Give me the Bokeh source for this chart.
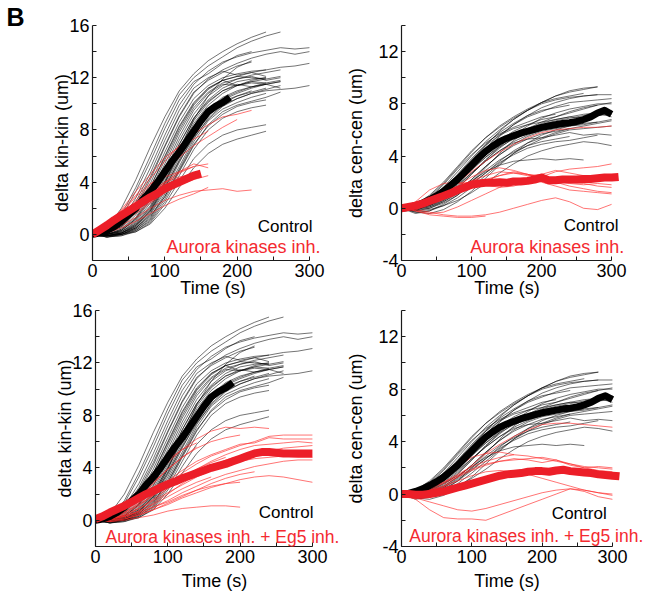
from bokeh.plotting import figure
from bokeh.layouts import column, row
from bokeh.models import Range1d, FixedTicker, Label, Title
from bokeh.embed import file_html
from bokeh.resources import INLINE

# ---------------- time vectors (s) ----------------
T20 = [0, 20, 40, 60, 80, 100, 120, 140, 160, 180, 200, 220, 240, 260, 280, 300, 320]
T10 = [0, 10, 20, 30, 40, 50, 60, 70, 80, 90, 100, 110, 120, 130, 140, 150, 160,
       170, 180, 190, 200, 210, 220, 230, 240, 250, 260, 270, 280, 290, 300, 310]

X_TICKS = [0, 100, 200, 300]
X_MINOR = [50, 150, 250]
KIN_TICKS = [0, 4, 8, 12, 16]
KIN_MINOR = [-2, 2, 6, 10, 14]
CEN_TICKS = [-4, 0, 4, 8, 12]
CEN_MINOR = [-2, 2, 6, 10, 14]
CEN_TICK_TEXT = {-4: "-4"}

# ---------------- delta kin-kin (um), control traces (sampled every 20 s) ----------------
kin_control = [
    [0, 0.5, 2.0, 4.2, 6.7, 9.0, 11.0, 12.3, 13.3, 14.0, 14.6, 15.1, 15.5],
    [0, 0.3, 1.5, 3.6, 6.0, 8.5, 10.7, 12.0, 12.9, 13.6, 14.3, 14.8, 15.2, 15.5],
    [0, 0.3, 1.3, 3.3, 5.6, 8.1, 10.3, 11.7, 12.3, 13.1, 13.7, 14.0],
    [0, 0.2, 1.0, 2.8, 5.1, 7.6, 9.9, 11.5, 12.5, 13.2, 13.6, 13.9, 14.1, 14.3, 14.2, 14.3],
    [0, 0.2, 0.9, 2.5, 4.7, 7.2, 9.5, 11.2, 12.0, 12.5, 12.2, 12.4, 12.1],
    [0, 0.1, 0.7, 2.1, 4.2, 6.7, 9.0, 10.8, 11.9, 12.6, 13.1, 13.5, 13.8, 14.0, 13.8, 14.0],
    [0, 0.1, 0.6, 1.9, 3.9, 6.3, 8.6, 10.4, 11.4, 12.0, 12.3, 12.5, 12.6, 12.8, 12.9, 13.1],
    [0, 0.1, 0.5, 1.7, 3.6, 6.0, 8.3, 10.1, 11.2, 11.8, 12.1, 12.0, 11.9, 12.1],
    [0, 0.0, 0.4, 1.5, 3.3, 5.7, 8.0, 9.9, 11.1, 11.8, 12.1, 12.4, 12.6],
    [0, 0.0, 0.4, 1.3, 3.1, 5.4, 7.8, 9.7, 10.9, 11.6, 11.9, 12.1, 11.8, 12.0],
    [0, 0.0, 0.3, 1.2, 2.9, 5.1, 7.5, 9.5, 10.8, 11.5, 11.4, 11.7, 11.9],
    [0, 0.0, 0.3, 1.1, 2.6, 4.8, 7.2, 9.2, 10.6, 11.4, 11.9, 12.2, 12.4, 12.6],
    [0, 0.0, 0.2, 1.0, 2.4, 4.5, 6.9, 8.9, 10.3, 11.2, 11.7, 11.9, 12.0],
    [0, 0.0, 0.2, 0.9, 2.2, 4.3, 6.6, 8.7, 10.1, 11.0, 11.5, 11.3, 11.5, 11.2],
    [0, -0.1, 0.1, 0.8, 2.0, 4.1, 6.4, 8.5, 9.9, 10.8, 11.4, 11.8, 12.0],
    [0, -0.1, 0.1, 0.7, 1.9, 3.9, 6.1, 8.2, 9.6, 10.4, 10.9, 11.3, 11.6],
    [0, -0.1, 0.1, 0.6, 1.7, 3.7, 5.9, 8.0, 9.5, 10.3, 10.8, 11.2, 11.5, 11.7],
    [0, -0.1, 0.0, 0.5, 1.6, 3.5, 5.7, 7.8, 9.3, 10.2, 10.6, 11.0],
    [0, -0.2, 0.0, 0.5, 1.5, 3.3, 5.5, 7.6, 9.1, 10.0, 10.6, 10.9, 11.2],
    [0, -0.2, 0.0, 0.4, 1.3, 3.1, 5.2, 7.3, 8.9, 9.9, 10.4, 10.8, 11.1, 11.4],
    [0, -0.1, 0.0, 0.4, 1.2, 2.9, 5.0, 7.1, 8.7, 9.6, 10.1, 10.5, 10.8],
    [0, -0.1, 0.0, 0.3, 1.1, 2.7, 4.8, 6.8, 8.4, 9.4, 9.9, 10.2, 10.5, 10.9],
    [0, -0.2, -0.1, 0.3, 1.0, 2.5, 4.5, 6.5, 8.0, 8.9, 9.4, 9.7, 9.9],
    [0, -0.1, 0.0, 0.2, 0.9, 2.3, 4.1, 5.8, 6.9, 7.6, 8.0, 8.2, 8.4],
    [0, -0.2, -0.1, 0.2, 0.8, 2.0, 3.6, 5.1, 6.2, 6.9, 7.3, 7.6, 7.9],
    [0, 0.0, 0.1, 0.6, 1.8, 3.9, 6.4, 8.8, 10.6, 11.9, 12.8, 13.3],
    [0, -0.1, 0.1, 0.7, 1.8, 3.6, 5.6, 7.4, 8.8, 9.8, 10.4, 10.8, 11.0, 11.1, 11.2, 11.4],
    [0, 0.1, 0.6, 1.8, 3.6, 5.9, 8.2, 10.0, 11.2, 11.8, 11.4, 11.6, 11.5],
    [0, 0.0, 0.3, 1.2, 2.7, 4.6, 6.9, 8.9, 10.2, 11.0, 11.4, 11.7, 11.6, 11.8],
    [0, -0.1, 0.1, 0.5, 1.4, 2.9, 4.9, 6.9, 8.3, 9.2, 9.8, 10.1, 10.3],
    [0, 0.1, 0.8, 2.3, 4.4, 6.8, 9.1, 10.9, 11.8, 12.4, 12.9, 13.2],
    [0, 0.0, 0.2, 0.8, 2.1, 4.0, 6.2, 8.2, 9.6, 10.5, 11.0, 11.3, 11.5, 11.7],
]

# Aurora kinases inh. (kin-kin)
kin_aurora = [
    [0, 0.8, 1.8, 3.0, 4.3, 5.6, 6.8, 7.7, 8.4, 9.0, 9.2, 9.5],
    [0, 0.6, 1.5, 2.6, 3.8, 4.9, 5.9, 6.8, 7.5, 8.2, 8.8],
    [0, 0.5, 1.2, 2.1, 3.1, 4.0, 4.8, 5.4, 5.1],
    [0, 0.3, 0.9, 1.6, 2.4, 3.2, 3.8, 4.2, 4.5],
    [0, 0.4, 1.3, 2.3, 3.3, 4.0, 4.4, 4.6],
    [0, 0.2, 0.7, 1.3, 2.0, 2.6, 3.0, 3.3, 3.4, 3.5, 3.3, 3.4],
    [0, 0.1, 0.5, 1.0, 1.6, 2.2, 2.7, 3.1, 3.6],
    [0, 0.5, 1.6, 2.9, 3.9, 4.4, 4.8, 5.2],
    [0, 0.7, 1.9, 3.3, 4.6, 5.9, 6.7, 7.3, 7.9],
    [0, 0.3, 1.0, 1.9, 3.0, 3.9, 4.7, 5.2, 5.4],
]

# Aurora kinases inh. + Eg5 inh. (kin-kin)
kin_aurora_eg5 = [
    [0, 0.3, 1.0, 2.0, 3.2, 4.4, 5.4, 6.2, 6.8, 7.1, 7.0, 7.1, 7.0],
    [0, 0.2, 0.8, 1.7, 2.8, 3.9, 4.8, 5.5, 6.0, 6.3, 6.5],
    [0, 0.4, 1.2, 2.3, 3.5, 4.6, 5.4, 5.9],
    [0, 0.1, 0.5, 1.1, 1.9, 2.8, 3.6, 4.3, 4.9, 5.3, 5.7, 6.0, 6.4, 6.5, 6.5, 6.5],
    [0, 0.2, 0.6, 1.3, 2.1, 3.0, 3.8, 4.5, 5.0, 5.4, 5.8, 5.9, 6.3, 6.2, 6.2, 6.2],
    [0, 0.1, 0.4, 0.9, 1.6, 2.4, 3.2, 3.9, 4.5, 5.0, 5.4, 5.7, 5.8, 5.9, 6.0, 5.9],
    [0, 0.0, 0.3, 0.7, 1.3, 2.0, 2.8, 3.5, 4.1, 4.6, 4.9, 5.2, 5.3, 5.5, 5.6, 5.7],
    [0, 0.1, 0.4, 0.9, 1.5, 2.1, 2.7, 3.3, 3.8, 4.2, 4.5, 4.7, 4.8, 4.9, 4.8, 4.8],
    [0, 0.0, 0.2, 0.5, 1.0, 1.5, 2.1, 2.6, 3.1, 3.5, 3.8, 4.1, 4.3, 4.5, 4.6, 4.6],
    [0, 0.0, 0.1, 0.4, 0.8, 1.2, 1.7, 2.1, 2.5, 2.8, 3.1, 3.3, 3.4, 3.3, 3.1, 2.9],
    [0, 0.1, 0.3, 0.6, 1.0, 1.4, 1.9, 2.3, 2.6, 2.8, 2.9],
    [0, -0.1, 0.0, 0.2, 0.4, 0.7, 0.9, 1.0, 1.1, 1.1, 1.0],
    [0, 0.2, 0.6, 1.2, 1.9, 2.6, 3.3, 3.9, 4.4, 4.8],
    [0, 0.1, 0.3, 0.7, 1.2, 1.8, 2.4, 2.9, 3.3],
    [0, -0.1, 0.1, 0.4, 0.8, 1.3, 1.8, 2.3, 2.8, 3.2, 3.5, 3.7],
    [0, 0.3, 0.9, 1.8, 2.9, 3.9, 4.8, 5.6],
]

# mean curves (sampled every 10 s)
kin_control_mean = [0, 0.1, 0.3, 0.6, 1.0, 1.5, 2.0, 2.7, 3.3, 4.0, 4.8, 5.6, 6.3, 7.1,
                    7.9, 8.7, 9.4, 9.8, 10.1, 10.5]
kin_aurora_mean = [0, 0.35, 0.7, 1.1, 1.45, 1.8, 2.15, 2.5, 2.85, 3.15, 3.5, 3.75, 4.0,
                   4.25, 4.5, 4.65]
kin_aurora_eg5_mean = [0.1, 0.3, 0.6, 0.85, 1.1, 1.4, 1.7, 2.0, 2.25, 2.5, 2.75, 2.95, 3.2,
                       3.4, 3.6, 3.8, 4.0, 4.15, 4.3, 4.5, 4.7, 4.9, 5.1, 5.2, 5.2, 5.15,
                       5.1, 5.1, 5.1, 5.1, 5.1]

# ---------------- delta cen-cen (um) ----------------
cen_control = [
    [0, 0.1, 0.5, 1.3, 2.4, 3.6, 4.8, 5.9, 6.8, 7.5, 8.1, 8.6, 9.0, 9.2, 9.3],
    [0, 0.2, 0.7, 1.6, 2.8, 4.0, 5.1, 6.0, 6.8, 7.5, 8.1, 8.6, 8.9, 9.1, 9.3],
    [0, -0.2, 0.3, 1.0, 2.0, 3.2, 4.4, 5.5, 6.4, 7.1, 7.7, 8.1, 8.4, 8.6, 8.7, 8.7],
    [0, 0.0, 0.4, 1.2, 2.3, 3.5, 4.6, 5.6, 6.4, 7.0, 7.4, 7.8, 8.1, 8.2, 8.3, 8.4],
    [0, 0.1, 0.2, 0.7, 1.5, 2.6, 3.7, 4.7, 5.6, 6.3, 6.9, 7.3, 7.6, 7.8, 8.0, 8.0],
    [0, -0.3, -0.2, 0.3, 1.0, 2.0, 3.1, 4.2, 5.2, 5.9, 6.4, 6.7, 6.9, 7.1, 7.3, 7.0],
    [0, 0.2, 0.6, 1.4, 2.5, 3.7, 4.8, 5.6, 6.1, 6.4, 6.6, 6.8, 7.0, 6.9, 7.1, 7.2],
    [0, -0.1, 0.1, 0.6, 1.3, 2.2, 3.2, 4.1, 4.9, 5.5, 5.9, 6.1, 6.3, 6.4, 6.6, 6.8],
    [0, -0.4, -0.2, 0.2, 0.8, 1.6, 2.5, 3.4, 4.2, 4.8, 5.3, 5.7, 6.0, 6.1, 6.2, 6.3],
    [0, 0.0, 0.3, 0.9, 1.7, 2.7, 3.6, 4.4, 5.0, 5.3, 5.4, 5.6, 5.8, 5.6, 5.7, 5.6],
    [0, -0.2, -0.1, 0.2, 0.6, 1.2, 1.9, 2.7, 3.4, 4.0, 4.4, 4.7, 4.9, 5.1, 5.0, 4.8],
    [0, 0.1, 0.3, 0.8, 1.4, 2.1, 2.8, 3.3, 3.6, 3.7, 3.8, 3.7, 3.8, 3.7],
    [0, 0.3, 0.9, 1.9, 3.1, 4.3, 5.4, 6.3, 7.0, 7.6, 8.1, 8.4, 8.6, 8.8],
    [0, 0.1, 0.6, 1.5, 2.6, 3.8, 4.9, 5.8, 6.5, 7.1, 7.5, 7.7, 7.9],
    [0, 0.0, 0.2, 0.8, 1.6, 2.6, 3.7, 4.6, 5.4, 6.0, 6.5, 6.8, 7.0, 7.2, 7.3],
    [0, 0.2, 0.8, 1.8, 3.0, 4.1, 5.0, 5.7, 6.2, 6.6, 7.0, 7.2],
    [0, -0.1, 0.0, 0.4, 1.0, 1.8, 2.7, 3.6, 4.4, 5.0, 5.4, 5.8, 6.1],
    [0, 0.0, 0.4, 1.1, 2.0, 3.0, 3.9, 4.7, 5.3, 5.7, 6.0, 6.2, 6.4, 6.5, 6.6],
    [0, -0.3, -0.4, -0.1, 0.5, 1.3, 2.3, 3.3, 4.2, 5.0, 5.6, 6.0, 6.3, 6.5],
    [0, 0.1, 0.5, 1.2, 2.2, 3.3, 4.3, 5.2, 5.9, 6.4, 6.8, 7.0, 7.3, 7.6, 7.9, 8.1],
    [0, 0.0, 0.1, 0.5, 1.1, 1.9, 2.7, 3.5, 4.1, 4.6, 4.9, 5.1, 5.2, 5.4, 5.6],
    [0, 0.2, 0.5, 1.0, 1.8, 2.7, 3.6, 4.4, 5.1, 5.6, 6.0, 6.4, 6.6, 6.9, 7.2, 7.5],
    [0, 0.1, 0.4, 1.0, 1.9, 2.9, 3.9, 4.8, 5.5, 6.1, 6.6, 7.0, 7.4, 7.7, 7.9],
    [0, -0.2, 0.0, 0.5, 1.2, 2.0, 2.9, 3.7, 4.3, 4.8, 5.1, 5.3, 5.5],
    [0, 0.3, 1.0, 2.0, 3.2, 4.4, 5.4, 6.2, 6.9, 7.5, 8.0, 8.3, 8.5, 8.6, 8.7],
    [0, 0.0, 0.2, 0.6, 1.3, 2.2, 3.2, 4.1, 4.8, 5.3, 5.7, 5.9, 6.1, 6.3, 6.5, 6.7],
]

cen_aurora = [
    [0, 0.2, 0.6, 1.2, 2.0, 2.8, 3.6, 4.3, 4.9, 5.4, 5.8, 6.0, 6.1, 6.2, 6.2, 6.3],
    [0, 0.3, 0.9, 1.5, 1.9, 2.0, 1.8, 1.6, 1.7, 2.0, 2.4, 2.8, 3.0, 3.1, 3.2, 3.4],
    [0, 0.5, 1.4, 1.9, 2.0, 1.8, 2.1, 2.5, 2.7, 2.6, 2.4, 2.1, 1.9, 1.8, 1.9, 1.8],
    [0, 0.1, 0.4, 0.8, 1.3, 1.8, 2.2, 2.5, 2.8, 2.6, 2.3, 2.0, 1.7, 1.5, 1.3, 1.2],
    [0, -0.2, -0.4, -0.3, 0.1, 0.6, 1.1, 1.6, 2.1, 2.3, 2.0, 1.7, 1.4, 1.3, 1.2, 1.1],
    [0, -0.1, -0.3, -0.5, -0.6, -0.6, -0.5, -0.3, 0.0, 0.3, 0.6, 0.8, 0.5, 0.0, -0.1, 0.3],
    [0, -0.2, -0.5, -0.6, -0.7, -0.7, -0.6],
    [0, 0.2, 0.6, 1.1, 1.6, 2.1, 2.5, 2.8, 2.7, 2.5, 2.6, 2.9, 2.7, 2.5],
    [0, 0.1, 0.5, 1.0, 1.7, 2.4, 2.9, 3.1, 2.9, 2.6, 2.4, 2.2, 2.0, 1.9, 1.7, 1.6],
]

cen_aurora_eg5 = [
    [0, 0.0, 0.2, 0.6, 1.3, 2.2, 3.1, 3.8, 4.4, 4.9, 5.3, 5.4, 5.4, 5.3, 5.2, 5.1],
    [0, 0.1, 0.4, 0.9, 1.5, 2.1, 2.5, 2.8, 3.0, 2.9, 2.7, 2.5, 2.3, 2.1, 2.0, 1.9],
    [0, 0.0, 0.3, 0.8, 1.3, 1.8, 2.2, 2.5, 2.7, 2.6, 2.4, 2.6, 2.3, 2.0, 1.8, 1.7],
    [0, 0.1, 0.3, 0.6, 1.0, 1.4, 1.7, 1.8, 1.7, 1.5, 1.2, 0.9, 0.6, 0.3, 0.1, 0.0],
    [0, -0.4, -1.2, -1.8, -1.9, -1.9, -2.0, -1.6, -1.2, -0.8, -0.4, 0.0, 0.4, 0.2, -0.2, -0.4],
    [0, -0.3, -0.6, -0.9, -1.2, -1.3, -1.1, -0.8, -0.5, -0.2, 0.1, 0.3, 0.4, 0.3, 0.1, -0.1],
    [0, 0.2, 0.5, 0.9, 1.4, 1.9, 2.3, 2.5, 2.6, 2.7, 2.8, 2.6, 2.2, 2.0, 2.1, 2.0],
    [0, 0.1, 0.6, 1.3, 2.1, 2.8, 3.1, 3.2, 3.0],
]

cen_control_mean = [0, 0.05, 0.2, 0.4, 0.65, 0.95, 1.3, 1.75, 2.2, 2.75, 3.3, 3.85, 4.35,
                    4.75, 5.1, 5.35, 5.55, 5.75, 5.9, 6.05, 6.2, 6.3, 6.4, 6.5, 6.55, 6.65,
                    6.8, 7.0, 7.3, 7.5, 7.2]
cen_aurora_mean = [0, 0.1, 0.2, 0.35, 0.55, 0.75, 0.95, 1.15, 1.4, 1.6, 1.8, 1.9, 1.95,
                   1.95, 2.0, 1.95, 2.05, 2.05, 2.1, 2.2, 2.35, 2.15, 2.15, 2.2, 2.2, 2.2,
                   2.25, 2.25, 2.3, 2.35, 2.35, 2.4]
cen_aurora_eg5_mean = [0, 0.0, -0.05, -0.05, 0.0, 0.1, 0.2, 0.35, 0.5, 0.65, 0.8, 0.95,
                       1.1, 1.25, 1.4, 1.5, 1.55, 1.6, 1.7, 1.75, 1.75, 1.7, 1.8, 1.85,
                       1.75, 1.7, 1.65, 1.6, 1.5, 1.45, 1.4, 1.35]

CTRL_LABEL = "Control"
AURORA_LABEL = "Aurora kinases inh."
AURORA_EG5_LABEL = "Aurora kinases inh. + Eg5 inh."
TIME_LABEL = "Time (s)"

FONT = "Liberation Sans"
RED_THIN = "#ff2a2a"
RED_THICK = "#ec1e28"
RED_TEXT = "#f42a30"
NBSP = "\u00a0"


def make_panel(w, h, b_left, b_top, b_bottom, x_end, y_lo, y_hi, yticks, yminor,
               ylabel, ylab_standoff, xlab_standoff, xlab_pad,
               ctrl, treat, ctrl_mean, treat_mean,
               ctrl_xy, treat_xy, treat_text, treat_align, treat_size):
    p = figure(width=w, height=h, x_range=Range1d(0, x_end), y_range=Range1d(y_lo, y_hi),
               output_backend="svg", toolbar_location=None,
               min_border_left=b_left, min_border_right=0,
               min_border_top=b_top, min_border_bottom=b_bottom)
    p.grid.visible = False
    p.outline_line_color = None
    p.background_fill_color = "white"
    p.border_fill_color = "white"

    p.xaxis.ticker = FixedTicker(ticks=X_TICKS, minor_ticks=X_MINOR)
    p.xaxis.bounds = (0, 300)
    p.xaxis.axis_label = TIME_LABEL + NBSP * xlab_pad
    p.xaxis.major_label_standoff = 3
    p.xaxis.axis_label_standoff = xlab_standoff

    p.yaxis.ticker = FixedTicker(ticks=yticks, minor_ticks=yminor)
    p.yaxis.major_label_overrides = CEN_TICK_TEXT
    p.yaxis.axis_label = ylabel
    p.yaxis.major_label_standoff = 3
    p.yaxis.axis_label_standoff = ylab_standoff

    for ax in (p.xaxis[0], p.yaxis[0]):
        ax.major_tick_in = 4
        ax.major_tick_out = 0
        ax.minor_tick_in = 4
        ax.minor_tick_out = 0
        ax.axis_line_width = 1.2
        ax.axis_line_color = "#1a1a1a"
        ax.major_tick_line_color = "#1a1a1a"
        ax.minor_tick_line_color = "#1a1a1a"
        ax.major_label_text_font = FONT
        ax.major_label_text_font_size = "18px"
        ax.major_label_text_color = "black"
        ax.axis_label_text_font = FONT
        ax.axis_label_text_font_size = "18px"
        ax.axis_label_text_font_style = "normal"
        ax.axis_label_text_color = "black"

    p.multi_line(xs=[T20[:len(v)] for v in ctrl], ys=ctrl,
                 line_color="black", line_alpha=0.55, line_width=1)
    p.multi_line(xs=[T20[:len(v)] for v in treat], ys=treat,
                 line_color=RED_THIN, line_alpha=0.65, line_width=1)
    p.line(T10[:len(ctrl_mean)], ctrl_mean, line_color="black", line_width=7,
           line_join="round")
    p.line(T10[:len(treat_mean)], treat_mean, line_color=RED_THICK, line_width=8,
           line_join="round")

    p.add_layout(Label(x=ctrl_xy[0], y=ctrl_xy[1], text=CTRL_LABEL, text_align="right",
                       text_baseline="middle", text_font=FONT, text_font_size="17px",
                       text_color="black"))
    p.add_layout(Label(x=treat_xy[0], y=treat_xy[1], text=treat_text, text_align=treat_align,
                       text_baseline="middle", text_font=FONT, text_font_size=treat_size,
                       text_color=RED_TEXT))
    return p


# top row: canvas y 0..300 ; bottom row: 300..595
# left column: canvas x 0..343 ; right column: 343..647
p1 = make_panel(343, 300, 92, 25, 38, 347.1, -2, 16, KIN_TICKS, KIN_MINOR,
                "delta kin-kin (um)", -6, -2, 2, kin_control, kin_aurora,
                kin_control_mean, kin_aurora_mean,
                (304.3, 0.58), (315.3, -0.93), AURORA_LABEL, "right", "18px")
p1.add_layout(Title(text="B", align="left", offset=-86, standoff=-10,
                    text_font=FONT, text_font_size="25px", text_font_style="bold",
                    text_color="black"), "above")

p2 = make_panel(304, 300, 50, 25, 38, 351.3, -4, 14, CEN_TICKS, CEN_MINOR,
                "delta cen-cen (um)", 9, -2, 7, cen_control, cen_aurora,
                cen_control_mean, cen_aurora_mean,
                (309.8, -1.34), (318.1, -2.94), AURORA_LABEL, "right", "18px")

p3 = make_panel(343, 295, 95, 10, 48, 343.0, -2, 16, KIN_TICKS, KIN_MINOR,
                "delta kin-kin (um)", -6, 5, 2, kin_control, kin_aurora_eg5,
                kin_control_mean, kin_aurora_eg5_mean,
                (301.5, 0.58), (13.8, -1.24), AURORA_EG5_LABEL, "left", "17.5px")

p4 = make_panel(304, 295, 51, 7, 49, 349.9, -4, 14, CEN_TICKS, CEN_MINOR,
                "delta cen-cen (um)", 9, 5, 7, cen_control, cen_aurora_eg5,
                cen_control_mean, cen_aurora_eg5_mean,
                (291.8, -1.51), (11.1, -3.17), AURORA_EG5_LABEL, "left", "17.5px")

layout = column(row(p1, p2, spacing=0), row(p3, p4, spacing=0), spacing=0)

with open("out.html", "w") as f:
    f.write(file_html(layout, INLINE))
